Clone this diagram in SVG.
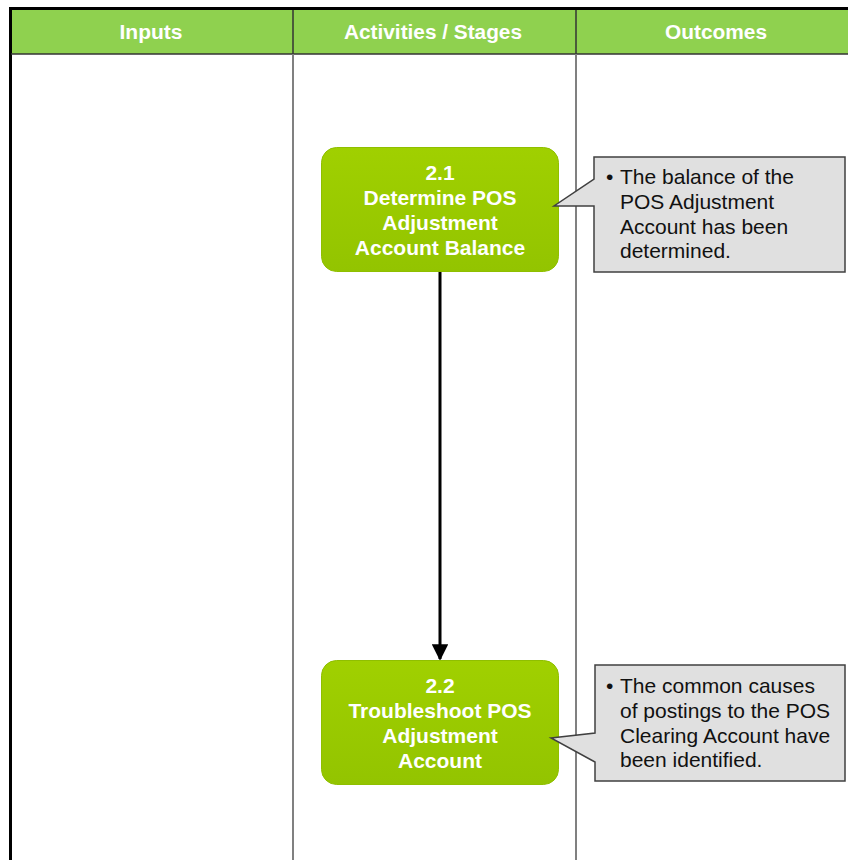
<svg xmlns="http://www.w3.org/2000/svg" width="848" height="860" viewBox="0 0 848 860">
  <style>
    .hdr { font-family: "Liberation Sans", Arial, sans-serif; font-weight: bold; font-size: 20px; fill: #ffffff; text-anchor: middle; }
    .node { fill: url(#ng); stroke: #8fbf00; stroke-width: 1; }
    .ntxt { font-family: "Liberation Sans", Arial, sans-serif; font-weight: bold; font-size: 21px; fill: #ffffff; text-anchor: middle; }
    .call { fill: #e0e0e0; stroke: #404040; stroke-width: 1.5; }
    .ctxt { font-family: "Liberation Sans", Arial, sans-serif; font-size: 21px; fill: #111111; }
    .div { stroke: #808080; stroke-width: 2; }
  </style>
  <defs>
    <linearGradient id="ng" x1="0" y1="0" x2="0" y2="1">
      <stop offset="0" stop-color="#a0d000"/>
      <stop offset="1" stop-color="#93c400"/>
    </linearGradient>
    <marker id="arr" viewBox="0 0 10 10" refX="9" refY="5" markerWidth="5.5" markerHeight="5.5" orient="auto" markerUnits="strokeWidth">
      <path d="M0,0 L10,5 L0,10 Z" fill="#000000"/>
    </marker>
  </defs>
  <rect x="0" y="0" width="848" height="860" fill="#ffffff"/>

  <g id="frame">
    <rect x="11" y="10" width="837" height="44" fill="#8fd14f"/>
    <line x1="9" y1="8.5" x2="848" y2="8.5" stroke="#000000" stroke-width="3"/>
    <line x1="10.5" y1="7" x2="10.5" y2="860" stroke="#000000" stroke-width="3"/>
    <line x1="11" y1="54" x2="848" y2="54" stroke="#333333" stroke-width="1.5"/>
    <line x1="293" y1="10" x2="293" y2="54" stroke="#333333" stroke-width="1.5"/>
    <line x1="576" y1="10" x2="576" y2="54" stroke="#333333" stroke-width="1.5"/>
    <line class="div" x1="293" y1="54" x2="293" y2="860"/>
    <line class="div" x1="576" y1="54" x2="576" y2="860"/>
    <text class="hdr" x="151" y="39" textLength="63" lengthAdjust="spacingAndGlyphs">Inputs</text>
    <text class="hdr" x="433" y="39" textLength="178" lengthAdjust="spacingAndGlyphs">Activities / Stages</text>
    <text class="hdr" x="716" y="39" textLength="102" lengthAdjust="spacingAndGlyphs">Outcomes</text>
  </g>

  <g id="connectors">
    <line x1="440" y1="272" x2="440" y2="659" stroke="#000000" stroke-width="3" marker-end="url(#arr)"/>
  </g>

  <g id="node-2-1">
    <rect class="node" x="321.5" y="147.5" width="237" height="124" rx="15" ry="15"/>
    <text class="ntxt" x="440" y="180">2.1</text>
    <text class="ntxt" x="440" y="205">Determine POS</text>
    <text class="ntxt" x="440" y="230">Adjustment</text>
    <text class="ntxt" x="440" y="255">Account Balance</text>
  </g>

  <g id="node-2-2">
    <rect class="node" x="321.5" y="660.5" width="237" height="124" rx="15" ry="15"/>
    <text class="ntxt" x="440" y="693">2.2</text>
    <text class="ntxt" x="440" y="718">Troubleshoot POS</text>
    <text class="ntxt" x="440" y="743">Adjustment</text>
    <text class="ntxt" x="440" y="768">Account</text>
  </g>

  <g id="callout-1">
    <path class="call" d="M594,157 H845 V272 H594 V206 L554,206 L594,179 Z"/>
    <text class="ctxt" x="606" y="184">•</text>
    <text class="ctxt" x="620" y="184">The balance of the</text>
    <text class="ctxt" x="620" y="209">POS Adjustment</text>
    <text class="ctxt" x="620" y="234">Account has been</text>
    <text class="ctxt" x="620" y="258">determined.</text>
  </g>

  <g id="callout-2">
    <path class="call" d="M595,665 H845 V781 H595 V762 L551,738 L595,733 Z"/>
    <text class="ctxt" x="606" y="693">•</text>
    <text class="ctxt" x="620" y="693">The common causes</text>
    <text class="ctxt" x="620" y="718">of postings to the POS</text>
    <text class="ctxt" x="620" y="743">Clearing Account have</text>
    <text class="ctxt" x="620" y="767">been identified.</text>
  </g>
</svg>
